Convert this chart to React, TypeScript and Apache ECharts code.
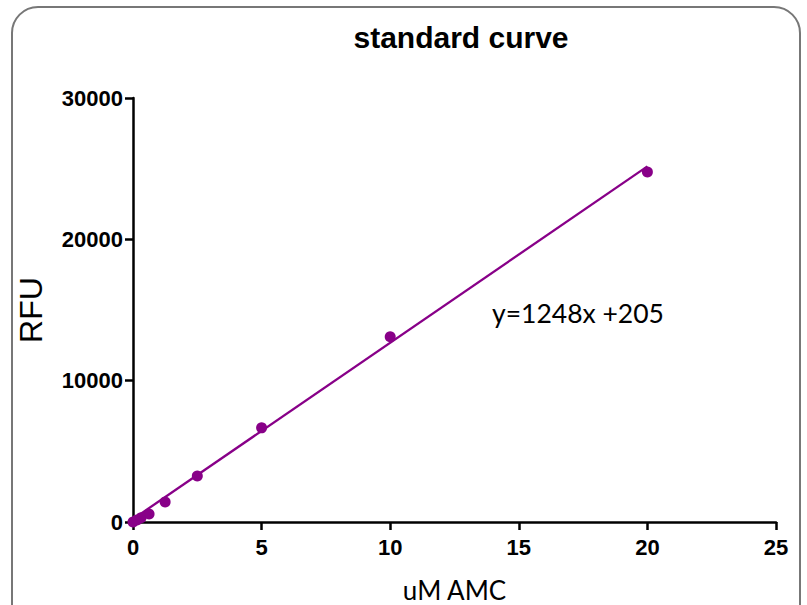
import React, { useEffect, useRef } from "react";
import * as echarts from "echarts";

const concentrations = [0, 0.156, 0.3125, 0.625, 1.25, 2.5, 5, 10, 20];
const rfuValues = [0, 150, 300, 560, 1420, 3260, 6660, 13100, 24760];
const fitSlope = 1248;
const fitIntercept = 205;
const fitRange = [0, 20];
const xTicks = [0, 5, 10, 15, 20, 25];
const yTicks = [0, 10000, 20000, 30000];

export default function App() {
  const ref = useRef<HTMLDivElement>(null);
  useEffect(() => {
    if (!ref.current) return;
    const chart = echarts.init(ref.current, null, { renderer: "svg" });
    const points = concentrations.map((c, i) => [c, rfuValues[i]]);
    const fitLine = fitRange.map((x) => [x, fitSlope * x + fitIntercept]);
    chart.setOption({
      animation: false,
      backgroundColor: "#ffffff",
      title: {
        text: "standard curve",
        left: 456,
        top: 17,
        textAlign: "center",
        textStyle: { fontFamily: "Liberation Sans", fontWeight: "bold", fontSize: 30, color: "#000" },
      },
      graphic: [
        {
          type: "rect",
          shape: { x: 12, y: 7, width: 788, height: 640, r: 26 },
          style: { fill: "none", stroke: "#777777", lineWidth: 2 },
          z: -1,
        },
        {
          type: "text",
          left: 492,
          top: 299,
          style: {
            text: "y=" + fitSlope + "x +" + fitIntercept,
            fontFamily: "Lato",
            fontSize: 26.5,
            fill: "#000",
          },
        },
      ],
      grid: { left: 133, right: 31, top: 98, bottom: 83, outerBoundsMode: "none", containLabel: false },
      xAxis: {
        type: "value",
        min: xTicks[0],
        max: xTicks[xTicks.length - 1],
        interval: 5,
        name: "uM AMC",
        nameLocation: "middle",
        nameGap: 55,
        nameTextStyle: { fontFamily: "Lato", fontSize: 26, color: "#000" },
        axisLine: { show: true, lineStyle: { color: "#000", width: 2.5 } },
        axisTick: { show: true, length: 8, lineStyle: { color: "#000", width: 2.5 } },
        axisLabel: { fontFamily: "Liberation Sans", fontWeight: "bold", fontSize: 22, color: "#000", margin: 14 },
        splitLine: { show: false },
      },
      yAxis: {
        type: "value",
        min: yTicks[0],
        max: yTicks[yTicks.length - 1],
        interval: 10000,
        name: "RFU",
        nameLocation: "middle",
        nameGap: 86,
        nameTextStyle: { fontFamily: "Liberation Sans", fontSize: 32, color: "#000" },
        axisLine: { show: true, lineStyle: { color: "#000", width: 2.5 } },
        axisTick: { show: true, length: 8, lineStyle: { color: "#000", width: 2.5 } },
        axisLabel: {
          fontFamily: "Liberation Sans",
          fontWeight: "bold",
          fontSize: 22,
          color: "#000",
          margin: 10,
          formatter: (v: number) => String(v),
        },
        splitLine: { show: false },
      },
      series: [
        {
          type: "line",
          data: fitLine,
          symbol: "none",
          lineStyle: { color: "#880088", width: 2.3 },
          z: 2,
        },
        {
          type: "scatter",
          data: points,
          symbolSize: 11,
          itemStyle: { color: "#880088", opacity: 1 },
          z: 3,
        },
      ],
    });
    return () => chart.dispose();
  }, []);
  return <div ref={ref} style={{ position: "fixed", left: 0, top: 0, width: 807, height: 605 }} />;
}
